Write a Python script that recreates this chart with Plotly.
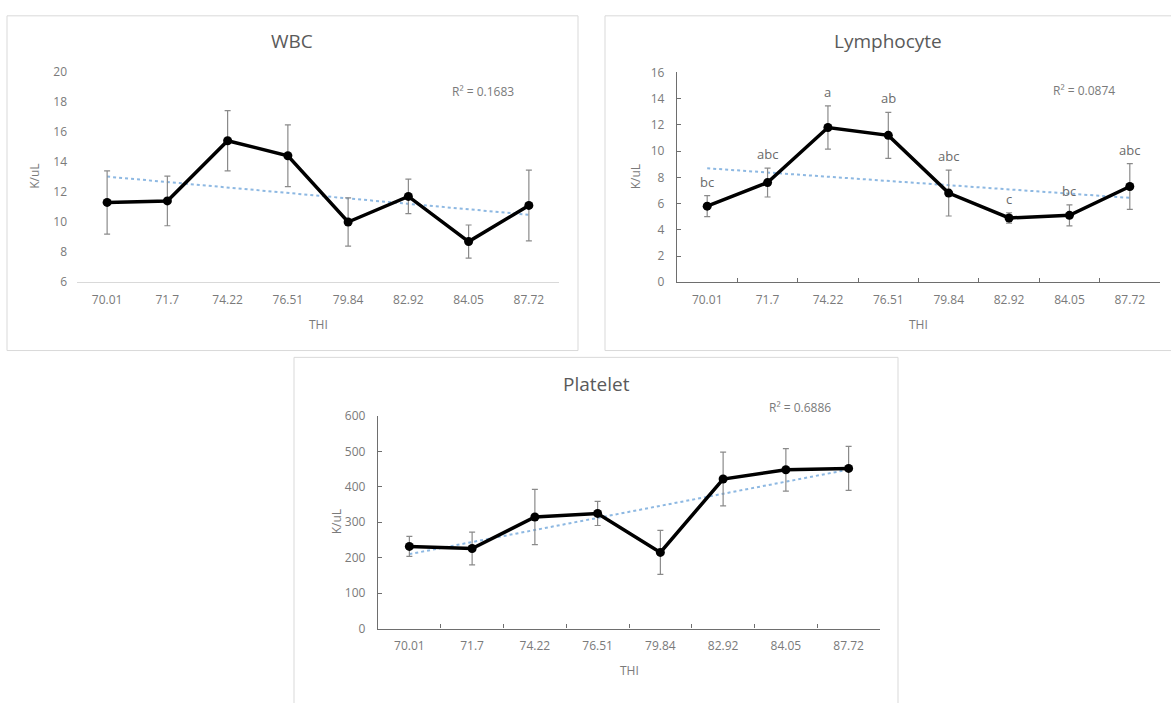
import numpy as np
import plotly.graph_objects as go

# THI categories shared by all three panels
thi = ["70.01", "71.7", "74.22", "76.51", "79.84", "82.92", "84.05", "87.72"]

# WBC (K/uL)
wbc_mean = [11.3, 11.4, 15.4, 14.4, 10.0, 11.7, 8.7, 11.1]
wbc_sd = [2.1, 1.65, 2.0, 2.05, 1.6, 1.15, 1.1, 2.35]

# Lymphocyte (K/uL)
lym_mean = [5.8, 7.6, 11.8, 11.2, 6.8, 4.9, 5.1, 7.3]
lym_sd = [0.8, 1.1, 1.65, 1.75, 1.75, 0.4, 0.8, 1.75]
lym_letters = ["bc", "abc", "a", "ab", "abc", "c", "bc", "abc"]

# Platelet (K/uL)
plt_mean = [232, 226, 315, 325, 215, 422, 448, 452]
plt_sd = [28, 46, 78, 34, 62, 76, 60, 62]

r2_labels = ["R² = 0.1683", "R² = 0.0874", "R² = 0.6886"]
titles = ["WBC", "Lymphocyte", "Platelet"]

W, H = 1171, 703
FONT = "Open Sans"
GRAY_TXT = "#7a7a7a"
TITLE_TXT = "#5a5a5a"


def px(x):
    return x / W


def py(y):
    return 1 - y / H


# layout geometry in pixels: panel box, plot area, title position, R² position
panels = [
    dict(key="", mean=wbc_mean, sd=wbc_sd, rng=[6, 20], dtick=2,
         box=(7, 7, 578, 350), area=(77, 64, 559, 280), title=(292, 33),
         r2=(483, 85), framed=False),
    dict(key="2", mean=lym_mean, sd=lym_sd, rng=[0, 16], dtick=2,
         box=(605, 7, 1180, 350), area=(677, 65, 1160, 280), title=(888, 33),
         r2=(1084, 84), framed=True),
    dict(key="3", mean=plt_mean, sd=plt_sd, rng=[0, 600], dtick=100,
         box=(294, 357, 898, 715), area=(378, 417, 880, 635), title=(596, 384),
         r2=(800, 408), framed=True),
]

fig = go.Figure()
shapes = []
annotations = []
layout_axes = {}

idx = np.arange(1, len(thi) + 1)

for i, p in enumerate(panels):
    xa = "x" + p["key"]
    ya = "y" + p["key"]
    mean = np.array(p["mean"], dtype=float)
    sd = np.array(p["sd"], dtype=float)

    # linear trendline fitted over category positions
    slope, intercept = np.polyfit(idx, mean, 1)
    trend = slope * idx + intercept
    fig.add_trace(go.Scatter(
        x=thi, y=trend, mode="lines", xaxis=xa, yaxis=ya,
        line=dict(color="#8db8e2", width=2, dash="dot"),
        hoverinfo="skip", showlegend=False))

    fig.add_trace(go.Scatter(
        x=thi, y=mean, mode="lines+markers", xaxis=xa, yaxis=ya,
        line=dict(color="#000000", width=3.5),
        marker=dict(color="#000000", size=9),
        error_y=dict(type="data", array=sd, visible=True,
                     color="#8a8a8a", thickness=1.2, width=3),
        showlegend=False))

    x0, y0, x1, y1 = p["area"]
    bx0, by0, bx1, by1 = p["box"]
    axis_col = "#6e6e6e" if p["framed"] else "#d9d9d9"

    layout_axes["xaxis" + p["key"]] = dict(
        domain=[px(x0), px(x1)], anchor=ya, type="category",
        categoryorder="array", categoryarray=thi,
        range=[-0.5, len(thi) - 0.5], autorange=False,
        showgrid=False, zeroline=False,
        showline=True, linecolor=axis_col, linewidth=1.3 if p["framed"] else 1,
        ticks="inside" if p["framed"] else "", ticklen=4, tickcolor=axis_col,
        tickson="boundaries", tickangle=0,
        tickfont=dict(family=FONT, size=12, color=GRAY_TXT),
        ticklabelstandoff=6, fixedrange=True)
    layout_axes["yaxis" + p["key"]] = dict(
        domain=[py(y1), py(y0)], anchor=xa, range=p["rng"], autorange=False,
        dtick=p["dtick"], tick0=0,
        showgrid=False, zeroline=False,
        showline=p["framed"], linecolor=axis_col, linewidth=1.3,
        ticks="inside" if p["framed"] else "", ticklen=4, tickcolor=axis_col,
        tickfont=dict(family=FONT, size=12, color=GRAY_TXT),
        ticklabelstandoff=9, fixedrange=True)

    # chart frame
    shapes.append(dict(type="rect", xref="paper", yref="paper",
                       x0=px(bx0), x1=px(bx1), y0=py(by1), y1=py(by0),
                       line=dict(color="#d9d9d9", width=1), layer="below"))

    # title
    annotations.append(dict(text=titles[i], xref="paper", yref="paper",
                            x=px(p["title"][0]), y=py(p["title"][1]),
                            xanchor="center", yanchor="middle", showarrow=False,
                            font=dict(family=FONT, size=19, color=TITLE_TXT)))
    # R² label
    annotations.append(dict(text=r2_labels[i], xref="paper", yref="paper",
                            x=px(p["r2"][0]), y=py(p["r2"][1]),
                            xanchor="center", yanchor="middle", showarrow=False,
                            font=dict(family=FONT, size=12, color=GRAY_TXT)))
    # axis titles
    annotations.append(dict(text="THI", xref="paper", yref="paper",
                            x=px((x0 + x1) / 2), y=py(y1 + 43),
                            xanchor="center", yanchor="middle", showarrow=False,
                            font=dict(family=FONT, size=12, color=GRAY_TXT)))
    annotations.append(dict(text="K/uL", xref="paper", yref="paper",
                            x=px(x0 - 42), y=py((y0 + y1) / 2),
                            xanchor="center", yanchor="middle", textangle=-90,
                            showarrow=False,
                            font=dict(family=FONT, size=12, color=GRAY_TXT)))

# significance letters above the lymphocyte error bars (x as category index)
for k, (m, s, lab) in enumerate(zip(lym_mean, lym_sd, lym_letters)):
    annotations.append(dict(text=lab, xref="x2", yref="y2", x=k, y=m + s,
                            xanchor="center", yanchor="bottom", yshift=3,
                            showarrow=False,
                            font=dict(family=FONT, size=13, color="#6a6a6a")))

fig.update_layout(
    width=W, height=H,
    margin=dict(l=0, r=0, t=0, b=0),
    paper_bgcolor="white", plot_bgcolor="white",
    shapes=shapes, annotations=annotations,
    showlegend=False,
    **layout_axes,
)

fig.write_html("out.html", config=dict(displayModeBar=False))
